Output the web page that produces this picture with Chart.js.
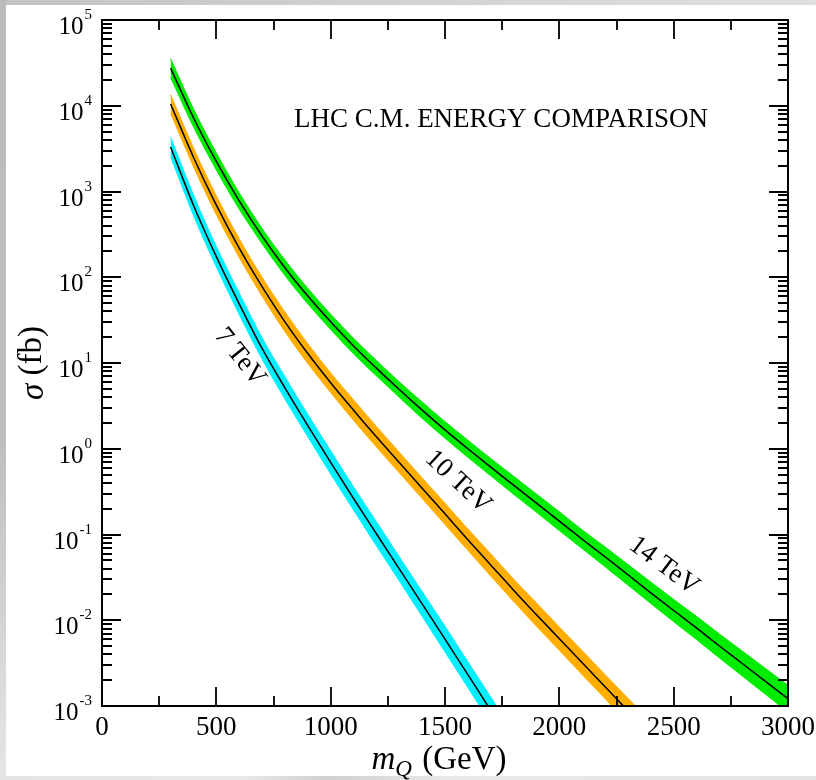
<!DOCTYPE html>
<html>
<head>
<meta charset="utf-8">
<title>LHC C.M. energy comparison</title>
<script src="https://cdn.jsdelivr.net/npm/chart.js@4.4.1/dist/chart.umd.min.js"></script>
<style>
  html, body { margin: 0; padding: 0; }
  body { width: 816px; height: 780px; position: relative; overflow: hidden; background: #dedede; }
  #edgeTop { position: absolute; left: 0; top: 0; width: 816px; height: 5px; background: linear-gradient(to right, #c3c3c3, #e0e0e0); }
  #edgeLeft { position: absolute; left: 0; top: 0; width: 6px; height: 780px; background: linear-gradient(to bottom, #bcbcbc, #bdbdbd 55%, #e6e6e6); }
  #edgeBottom { position: absolute; left: 0; bottom: 0; width: 816px; height: 4px; background: linear-gradient(to right, #e4e4e4, #e9e9e9 30%, #cfcfcf 40%, #e9e9e9 55%, #e4e4e4); }
  #panel { position: absolute; left: 6px; top: 5px; width: 810px; height: 771px; background: #ffffff; }
  #wrap { position: absolute; left: 0; top: 0; width: 816px; height: 780px; }
</style>
</head>
<body>
<div id="edgeTop"></div>
<div id="edgeLeft"></div>
<div id="edgeBottom"></div>
<div id="panel"></div>
<div id="wrap"><canvas id="xsec" width="816" height="780"></canvas></div>
<script>
// Heavy-quark pair production cross section sigma (fb) versus mass m_Q (GeV)
// at three LHC centre-of-mass energies: central value plus uncertainty band.

const mass14 = [300, 400, 500, 600, 700, 800, 900, 1000, 1100, 1200, 1300, 1400, 1500, 1600, 1700,
                1800, 1900, 2000, 2100, 2200, 2300, 2400, 2500, 2600, 2700, 2800, 2900, 3000];
const sigma14 = [27500, 7240, 2240, 776, 302, 129, 60.3, 30.2, 15.8, 8.71, 4.90, 2.82, 1.66, 1.00, 0.610,
                 0.376, 0.232, 0.143, 0.0881, 0.0550, 0.0339, 0.0209, 0.0130, 0.00813, 0.00501, 0.00313, 0.00195, 0.00122];
const upper14 = [35400, 9220, 2820, 966, 371, 159, 74.2, 37.1, 19.4, 10.7, 6.03, 3.51, 2.07, 1.26, 0.768,
                 0.479, 0.296, 0.184, 0.113, 0.0717, 0.0447, 0.0279, 0.0175, 0.0111, 0.00691, 0.00437, 0.00276, 0.00174];
const lower14 = [21300, 5680, 1780, 623, 246, 105, 49.0, 24.6, 12.8, 7.08, 3.98, 2.26, 1.33, 0.794, 0.484,
                 0.295, 0.182, 0.111, 0.0684, 0.0422, 0.0257, 0.0157, 0.00963, 0.00596, 0.00363, 0.00224, 0.00138, 0.000854];

const mass10 = [300, 400, 500, 600, 700, 800, 900, 1000, 1100, 1200, 1300, 1400, 1500, 1600, 1700,
                1800, 1900, 2000, 2100, 2200, 2300, 2400];
const sigma10 = [10500, 2510, 692, 219, 77.6, 30.2, 12.9, 5.89, 2.82, 1.38, 0.692, 0.347, 0.174, 0.0871, 0.0442,
                 0.0224, 0.0116, 0.00610, 0.00320, 0.00168, 0.000881, 0.000462];
const upper10 = [13500, 3230, 891, 282, 99.9, 39.4, 16.8, 7.67, 3.72, 1.82, 0.912, 0.457, 0.232, 0.116, 0.0596,
                 0.0302, 0.0159, 0.00833, 0.00442, 0.00232, 0.00123, 0.000653];
const lower10 = [8150, 1950, 537, 170, 60.2, 23.2, 9.89, 4.52, 2.14, 1.05, 0.525, 0.263, 0.131, 0.0653, 0.0328,
                 0.0166, 0.00851, 0.00447, 0.00232, 0.00122, 0.000631, 0.000327];

const mass7 = [300, 400, 500, 600, 700, 800, 900, 1000, 1100, 1200, 1300, 1400, 1500, 1600, 1700, 1800];
const sigma7 = [3310, 692, 174, 49.0, 14.8, 5.13, 1.86, 0.692, 0.263, 0.102, 0.0398, 0.0155, 0.00603, 0.00232, 0.000891, 0.000339];
const upper7 = [4310, 912, 229, 65.4, 19.7, 6.92, 2.51, 0.945, 0.359, 0.141, 0.0549, 0.0216, 0.00852, 0.00328, 0.00127, 0.000490];
const lower7 = [2540, 525, 132, 36.8, 11.1, 3.80, 1.38, 0.507, 0.193, 0.0738, 0.0288, 0.0111, 0.00427, 0.00164, 0.000624, 0.000235];

// Axis ticks
const xMajorTicks = [0, 500, 1000, 1500, 2000, 2500, 3000];
const xMinorTicks = [250, 750, 1250, 1750, 2250, 2750];
const yDecades = [-3, -2, -1, 0, 1, 2, 3, 4, 5];
const yMinorSteps = [2, 3, 4, 5, 6, 7, 8, 9];

// Curve labels, placed in data coordinates along each band
const curveLabels = ['14 TeV', '10 TeV', '7 TeV'];
const curveLabelMass = [2458, 1557, 603];
const curveLabelSigma = [0.043, 0.41, 11.7];
const curveLabelAngle = [36.6, 42.7, 51.4];

const plotTitle = 'LHC C.M. ENERGY COMPARISON';
const plotTitleMass = 1745;
const plotTitleSigma = 5700;

const SERIF = '"Liberation Serif", "Times New Roman", serif';

function pts(xs, ys) { return xs.map((m, i) => ({ x: m, y: ys[i] })); }

function bandSets(xs, hi, lo, mid, colour) {
  return [
    { data: pts(xs, hi), fill: '+1', backgroundColor: colour, borderColor: colour, borderWidth: 1,
      pointRadius: 0, cubicInterpolationMode: 'monotone', order: 2 },
    { data: pts(xs, lo), fill: false, borderColor: colour, borderWidth: 1,
      pointRadius: 0, cubicInterpolationMode: 'monotone', order: 2 },
    { data: pts(xs, mid), fill: false, borderColor: '#000000', borderWidth: 1.5,
      pointRadius: 0, cubicInterpolationMode: 'monotone', order: 1 }
  ];
}

const axesPlugin = {
  id: 'framedAxes',
  afterDatasetsDraw(chart) {
    const { ctx, chartArea: a, scales: { x, y } } = chart;
    ctx.save();

    // inward tick marks on all four sides
    ctx.strokeStyle = '#000';
    ctx.lineWidth = 1.8;
    ctx.beginPath();
    const vTick = (px, len) => {
      ctx.moveTo(px, a.bottom); ctx.lineTo(px, a.bottom - len);
      ctx.moveTo(px, a.top); ctx.lineTo(px, a.top + len);
    };
    const hTick = (py, len) => {
      ctx.moveTo(a.left, py); ctx.lineTo(a.left + len, py);
      ctx.moveTo(a.right, py); ctx.lineTo(a.right - len, py);
    };
    xMajorTicks.forEach(m => vTick(Math.round(x.getPixelForValue(m)), 19));
    xMinorTicks.forEach(m => vTick(Math.round(x.getPixelForValue(m)), 10));
    yDecades.forEach(d => {
      hTick(Math.round(y.getPixelForValue(Math.pow(10, d))), 19);
      if (d < yDecades[yDecades.length - 1]) {
        yMinorSteps.forEach(k => hTick(Math.round(y.getPixelForValue(k * Math.pow(10, d))), 10));
      }
    });
    ctx.stroke();

    // frame
    ctx.lineWidth = 2;
    ctx.strokeRect(a.left, a.top, a.right - a.left, a.bottom - a.top);

    ctx.fillStyle = '#000';

    // x tick labels
    ctx.font = '27px ' + SERIF;
    ctx.textAlign = 'center';
    ctx.textBaseline = 'alphabetic';
    xMajorTicks.forEach(m => ctx.fillText(String(m), x.getPixelForValue(m), a.bottom + 29));

    // y tick labels as 10^n
    const labelRight = a.left - 10;
    yDecades.forEach(d => {
      const py = y.getPixelForValue(Math.pow(10, d));
      ctx.textAlign = 'right';
      ctx.font = '15px ' + SERIF;
      const exp = String(d);
      const ew = ctx.measureText(exp).width;
      ctx.fillText(exp, labelRight, py - 1);
      ctx.font = '25px ' + SERIF;
      ctx.fillText('10', labelRight - ew - 1, py + 14);
    });

    // x axis title: m_Q (GeV)
    {
      const big = '33px ' + SERIF, bigIt = 'italic 33px ' + SERIF, sub = 'italic 23px ' + SERIF;
      ctx.textAlign = 'left';
      ctx.font = bigIt; const wm = ctx.measureText('m').width;
      ctx.font = sub; const wq = ctx.measureText('Q').width;
      ctx.font = big; const wr = ctx.measureText(' (GeV)').width;
      const total = wm + wq + 2 + wr;
      let cx = (a.left + a.right) / 2 - 6 - total / 2;
      const base = a.bottom + 63;
      ctx.font = bigIt; ctx.fillText('m', cx, base); cx += wm;
      ctx.font = sub; ctx.fillText('Q', cx, base + 7); cx += wq + 2;
      ctx.font = big; ctx.fillText(' (GeV)', cx, base);
    }

    // y axis title: sigma (fb)
    {
      ctx.save();
      ctx.translate(a.left - 70, (a.top + a.bottom) / 2);
      ctx.rotate(-Math.PI / 2);
      const bigIt = 'italic 33px ' + SERIF, big = '33px ' + SERIF;
      ctx.font = bigIt; const ws = ctx.measureText('σ').width;
      ctx.font = big; const wr = ctx.measureText(' (fb)').width;
      let cx = -(ws + wr) / 2;
      ctx.textAlign = 'left';
      ctx.textBaseline = 'middle';
      ctx.font = bigIt; ctx.fillText('σ', cx, 2); cx += ws;
      ctx.font = big; ctx.fillText(' (fb)', cx, 0);
      ctx.restore();
    }

    // title inside the plot
    ctx.font = '27px ' + SERIF;
    ctx.textAlign = 'center';
    ctx.textBaseline = 'alphabetic';
    ctx.fillText(plotTitle, x.getPixelForValue(plotTitleMass), y.getPixelForValue(plotTitleSigma));

    // curve labels
    curveLabels.forEach((t, i) => {
      ctx.save();
      ctx.translate(x.getPixelForValue(curveLabelMass[i]), y.getPixelForValue(curveLabelSigma[i]));
      ctx.rotate(curveLabelAngle[i] * Math.PI / 180);
      ctx.textAlign = 'center';
      ctx.textBaseline = 'middle';
      ctx.font = '27px ' + SERIF;
      ctx.fillText(t, 0, 0);
      ctx.restore();
    });

    ctx.restore();
  }
};

new Chart(document.getElementById('xsec'), {
  type: 'line',
  data: {
    datasets: [
      ...bandSets(mass14, upper14, lower14, sigma14, '#00ec00'),
      ...bandSets(mass10, upper10, lower10, sigma10, '#ffae00'),
      ...bandSets(mass7, upper7, lower7, sigma7, '#00f0ff')
    ]
  },
  options: {
    responsive: false,
    animation: false,
    layout: { padding: { left: 102, top: 20, right: 28, bottom: 74 } },
    scales: {
      x: { type: 'linear', min: 0, max: 3000, display: false },
      y: { type: 'logarithmic', min: 1e-3, max: 1e5, display: false }
    },
    plugins: { legend: { display: false }, tooltip: { enabled: false } }
  },
  plugins: [axesPlugin]
});
</script>
</body>
</html>
